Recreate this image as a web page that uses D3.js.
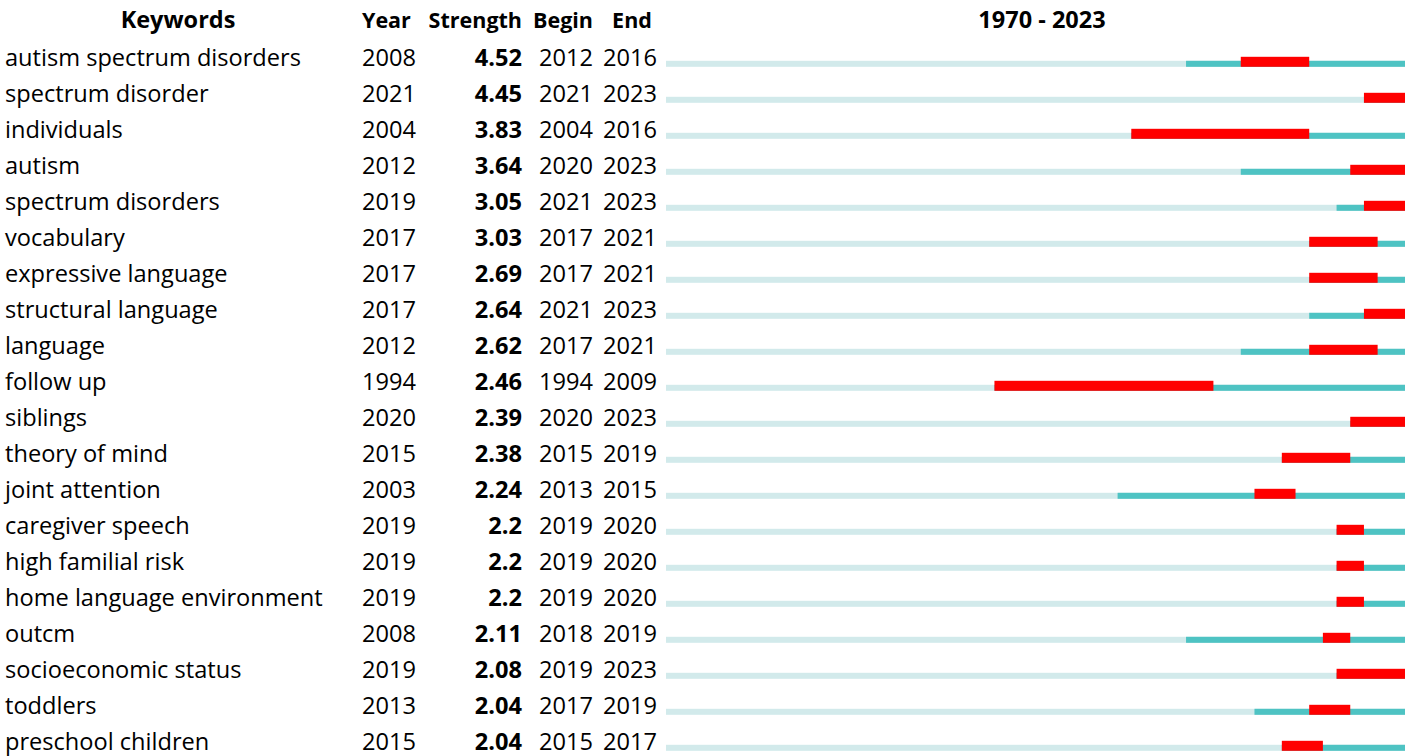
<!DOCTYPE html>
<html><head><meta charset="utf-8">
<script src="https://cdn.jsdelivr.net/npm/d3@7"></script>
<style>body{margin:0;background:#fff;} svg{display:block;}</style>
</head><body>
<svg id="c" width="1417" height="756"></svg>
<script>
const keywords = ["autism spectrum disorders","spectrum disorder","individuals","autism","spectrum disorders","vocabulary","expressive language","structural language","language","follow up","siblings","theory of mind","joint attention","caregiver speech","high familial risk","home language environment","outcm","socioeconomic status","toddlers","preschool children"];
const years = [2008,2021,2004,2012,2019,2017,2017,2017,2012,1994,2020,2015,2003,2019,2019,2019,2008,2019,2013,2015];
const strengths = ["4.52","4.45","3.83","3.64","3.05","3.03","2.69","2.64","2.62","2.46","2.39","2.38","2.24","2.2","2.2","2.2","2.11","2.08","2.04","2.04"];
const begins = [2012,2021,2004,2020,2021,2017,2017,2021,2017,1994,2020,2015,2013,2019,2019,2019,2018,2019,2017,2015];
const ends = [2016,2023,2016,2023,2023,2021,2021,2023,2021,2009,2023,2019,2015,2020,2020,2020,2019,2023,2019,2017];
const headers = ["Keywords","Year","Strength","Begin","End"];
const rangeStart = 1970, rangeEnd = 2023;

const svg = d3.select("#c");
const font = "'Open Sans', Lato, sans-serif";
const fs = 23.6;
const x = d3.scaleLinear().domain([rangeStart, rangeEnd + 1]).range([666, 1405]);
const y = d3.scaleBand().domain(d3.range(keywords.length)).range([30.8, 750.8]);
const base = i => y(i) + y.bandwidth(); // bar bottom
const tb = i => base(i) - 1.2; // text baseline

const rows = keywords.map((k,i)=>({k, yr:years[i], s:strengths[i], b:begins[i], e:ends[i], i}));

// headers
const hdr = svg.append("g").attr("font-family", font).attr("font-weight", "bold").attr("font-size", 21.5).attr("fill", "#000");
hdr.append("text").attr("x", 178).attr("y", 28).attr("text-anchor","middle").attr("font-size", 23.5).text(headers[0]);
hdr.append("text").attr("x", 362).attr("y", 28).attr("text-anchor","start").text(headers[1]);
hdr.append("text").attr("x", 522).attr("y", 28).attr("text-anchor","end").text(headers[2]);
hdr.append("text").attr("x", 593).attr("y", 28).attr("text-anchor","end").text(headers[3]);
hdr.append("text").attr("x", 632).attr("y", 28).attr("text-anchor","middle").text(headers[4]);
hdr.append("text").attr("x", 1042).attr("y", 28).attr("text-anchor","middle").attr("font-size", 23.5).text(rangeStart + " - " + rangeEnd);

const g = svg.append("g").attr("font-family", font).attr("font-size", fs).attr("fill", "#000");
const r = g.selectAll("g.row").data(rows).join("g").attr("class","row");
r.append("text").attr("x", 5).attr("y", d=>tb(d.i)).text(d=>d.k);
r.append("text").attr("x", 362).attr("y", d=>tb(d.i)).text(d=>d.yr);
r.append("text").attr("x", 522).attr("y", d=>tb(d.i)).attr("text-anchor","end").attr("font-weight","bold").text(d=>d.s);
r.append("text").attr("x", 593).attr("y", d=>tb(d.i)).attr("text-anchor","end").text(d=>d.b);
r.append("text").attr("x", 657).attr("y", d=>tb(d.i)).attr("text-anchor","end").text(d=>d.e);

// bars
const thin = 6, thick = 10;
r.append("rect").attr("x", x(rangeStart)).attr("width", x(rangeEnd+1)-x(rangeStart))
  .attr("y", d=>base(d.i)-thin).attr("height", thin).attr("fill", "#d2eaeb");
r.append("rect").attr("x", d=>x(d.yr)).attr("width", d=>x(rangeEnd+1)-x(d.yr))
  .attr("y", d=>base(d.i)-thin).attr("height", thin).attr("fill", "#4ec3c3");
r.append("rect").attr("x", d=>x(d.b)).attr("width", d=>x(d.e+1)-x(d.b))
  .attr("y", d=>base(d.i)-thick).attr("height", thick).attr("fill", "#ff0000");
</script>
</body></html>
